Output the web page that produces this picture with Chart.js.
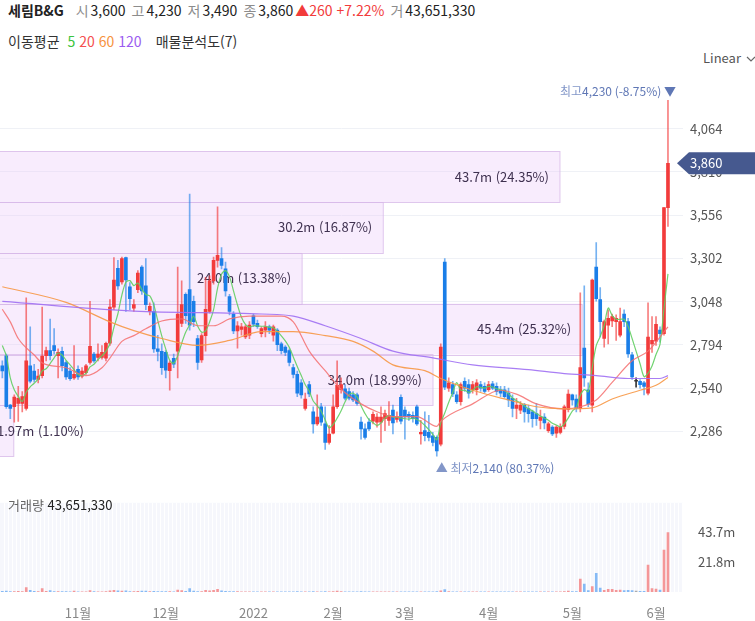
<!DOCTYPE html>
<html lang="ko">
<head>
<meta charset="utf-8">
<script src="https://cdn.jsdelivr.net/npm/chart.js@4.4.1/dist/chart.umd.min.js"></script>
<style>
  body { margin: 0; background: #fff; font-family: 'Noto Sans CJK KR', 'Noto Sans', sans-serif; }
  #wrap { position: relative; width: 755px; height: 621px; overflow: hidden; }
  .abs { position: absolute; }
  #head { left: 8px; top: 0; font-size: 14px; line-height: 20px; color: #222; white-space: nowrap; }
  #head b { margin-right: 6px; }
  #head .g { color: #8c8c8c; margin: 0 2px 0 6px; }
  #head .r { color: #f23b3b; margin-left: 2px; }
  #ma { left: 8px; top: 31px; font-size: 14px; line-height: 20px; color: #333; white-space: nowrap; }
  #ma span { margin-left: 4px; }
  #lin { left: 703px; top: 48px; font-size: 13px; color: #555; white-space: nowrap; }
  #volTxt { left: 8px; top: 495px; font-size: 13px; color: #222; white-space: nowrap; }
</style>
</head>
<body>
<div id="wrap">
  <div id="head" class="abs"><b>세림B&amp;G</b><span class="g">시</span>3,600<span class="g">고</span>4,230<span class="g">저</span>3,490<span class="g">종</span>3,860<span class="r">▲260 +7.22%</span><span class="g">거</span>43,651,330</div>
  <div id="ma" class="abs">이동평균 <span style="color:#3cc43c">5</span><span style="color:#f55050">20</span><span style="color:#f7923d">60</span><span style="color:#9b5cf0">120</span><span style="margin-left:14px">매물분석도(7)</span></div>
  <div id="lin" class="abs">Linear<svg width="10" height="7" style="margin-left:5px"><polyline points="1,1 5,5 9,1" fill="none" stroke="#666" stroke-width="1.2"/></svg></div>
  <div class="abs" style="left:0;top:65px;width:755px;height:425px"><canvas id="price"></canvas></div>
  <div class="abs" style="left:0;top:488px;width:755px;height:133px"><canvas id="vol"></canvas></div>
  <div id="volTxt" class="abs"><span style="color:#666">거래량</span> 43,651,330</div>
</div>
<script>
// 월 구분 (일봉 인덱스 기준)
const monthLabels = ['11월', '12월', '2022', '2월', '3월', '4월', '5월', '6월'];
const monthStart = [19, 41, 63, 83, 101, 122, 143, 164];

// 일봉 시가/고가/저가/종가
const opens = [2670,2730,2440,2430,2450,2450,2420,2670,2640,2590, 2613,2730,2760,2790,2730,2756,2690,2640,2600,2650,
  2610,2630,2690,2740,2720,2720,2716,2803,3015,3244, 3164,3307,3135,3009,3118,3250,3140,2990,2990,2770,
  2756,2750,2642,2715,2756,2920,3090,3118,3049,2830, 2705,2848,2990,3170,3290,3300,3240,3078,2975,2875,
  2885,2840,2850,2965,2920,2860,2880,2900,2850,2880, 2800,2780,2760,2660,2620,2570,2420,2560,2400,2330,
  2430,2330,2220,2275,2430,2530,2535,2520,2500,2500, 2340,2300,2340,2345,2340,2340,2360,2350,2410,2355,
  2485,2410,2385,2380,2430,2270,2290,2280,2260,2250, 2210,3280,2540,2560,2500,2460,2580,2560,2530,2530,
  2560,2550,2530,2565,2550,2530,2530,2510,2480,2420, 2410,2440,2420,2400,2390,2350,2370,2290,2310,2275,
  2280,2315,2415,2500,2475,2420,2775,2530,2440,3250, 3060,2831,2910,2935,2930,2850,2975,2930,2735,2580,
  2580,2570,2510,2800,2815,2880,2860,3600];
const highs = [2700,2740,2445,2500,2550,2520,3070,2900,2680,2650, 3015,2780,2945,2890,2770,2780,2700,2660,2790,2670,
  2660,2680,3049,2750,2800,2790,2810,3060,3307,3290, 3310,3310,3160,3060,3230,3260,3301,3040,3040,2850,
  2800,2760,2700,2740,3250,3170,3100,3680,3080,2850, 2860,3190,3200,3310,3605,3365,3280,3090,2990,2930,
  2920,2910,2930,2975,2940,2900,2930,2910,2910,2890, 2810,2790,2770,2680,2640,2590,2510,2580,2430,2500,
  2450,2430,2320,2500,2700,2600,2560,2540,2520,2510, 2370,2330,2360,2400,2390,2430,2410,2460,2440,2400,
  2500,2430,2400,2400,2440,2350,2400,2380,2280,2260, 2800,3300,2600,2580,2520,2570,2600,2590,2580,2590,
  2580,2570,2580,2580,2570,2550,2550,2540,2500,2480, 2460,2450,2440,2410,2450,2410,2390,2340,2320,2320,
  2330,2440,2530,2505,2500,3100,3140,2570,3180,3395, 3130,2940,3000,2975,2970,3010,3000,2950,2750,2600,
  2590,2580,3040,2960,2960,2900,3600,4230];
const lows = [2600,2420,2360,2340,2344,2400,2410,2570,2575,2570, 2600,2700,2705,2740,2600,2640,2590,2585,2590,2590,
  2600,2620,2680,2690,2700,2710,2700,2790,3000,3120, 3150,2990,3000,2990,3100,3090,3000,2970,2750,2700,
  2620,2600,2527,2660,2600,2900,2920,2880,2900,2650, 2690,2756,2980,3150,3250,3240,3080,2970,2860,2775,
  2850,2830,2830,2900,2890,2840,2840,2860,2815,2760, 2740,2730,2670,2600,2490,2480,2410,2490,2275,2320,
  2320,2180,2210,2270,2420,2510,2470,2470,2460,2440, 2240,2240,2290,2330,2310,2220,2290,2320,2270,2340,
  2330,2240,2350,2340,2320,2210,2230,2230,2200,2140, 2200,2530,2520,2490,2450,2440,2520,2480,2510,2500,
  2520,2510,2520,2530,2500,2490,2480,2430,2370,2360, 2390,2340,2340,2310,2320,2300,2300,2280,2260,2250,
  2270,2300,2400,2440,2400,2400,2550,2430,2400,3050, 2840,2780,2800,2900,2820,2840,2900,2720,2590,2545,
  2540,2500,2500,2750,2790,2810,2850,3490];
const closes = [2640,2430,2420,2487,2480,2490,2700,2580,2590,2610, 2728,2760,2730,2760,2750,2671,2605,2595,2620,2605,
  2640,2670,2785,2700,2740,2750,2803,3015,3175,3140, 3301,3175,3065,3030,3215,3110,3030,3020,2770,2755,
  2660,2645,2687,2680,2975,3030,2965,2910,2930,2690, 2848,3003,3170,3290,3320,3260,3110,2990,2875,2905,
  2900,2900,2910,2915,2900,2890,2900,2880,2900,2795, 2760,2750,2690,2620,2510,2500,2475,2505,2330,2370,
  2340,2220,2270,2430,2556,2560,2480,2480,2470,2450, 2300,2250,2300,2385,2370,2370,2390,2380,2335,2370,
  2345,2370,2370,2360,2330,2280,2260,2250,2220,2170, 2780,2545,2570,2505,2460,2560,2540,2510,2560,2570,
  2540,2520,2560,2540,2520,2510,2490,2470,2420,2440, 2440,2400,2390,2360,2360,2370,2335,2330,2270,2310,
  2310,2430,2505,2470,2420,2660,2600,2445,3175,3065, 2930,2930,2950,2960,2950,2930,2930,2740,2605,2580,
  2560,2550,2840,2820,2915,2860,3600,3860];
// 거래량 (백만 주)
const volumes = [0.5,0.6,0.4,0.4,0.5,0.4,3.2,1.3,0.5,0.3, 2.6,0.5,1.0,0.4,0.3,0.3,0.3,0.2,0.6,0.2,
  0.2,0.2,1.0,0.3,0.2,0.2,0.3,0.8,1.2,0.8, 0.7,0.9,0.4,0.3,0.5,0.6,0.6,0.3,0.5,0.3,
  0.3,0.3,0.3,0.2,1.4,1.0,0.5,2.6,0.6,0.4, 0.4,1.2,0.9,1.2,2.0,0.8,0.5,0.3,0.3,0.3,
  0.2,0.2,0.2,0.2,0.2,0.2,0.2,0.2,0.2,0.2, 0.2,0.2,0.2,0.2,0.3,0.2,0.2,0.2,0.3,0.2,
  0.2,0.3,0.2,0.4,0.6,0.3,0.2,0.2,0.2,0.2, 0.3,0.2,0.2,0.2,0.2,0.2,0.2,0.2,0.2,0.2,
  0.2,0.2,0.2,0.2,0.2,0.2,0.2,0.2,0.2,0.3, 0.9,1.8,0.3,0.2,0.2,0.2,0.2,0.2,0.2,0.2,
  0.2,0.2,0.2,0.2,0.2,0.2,0.2,0.2,0.2,0.2, 0.2,0.2,0.2,0.2,0.2,0.2,0.2,0.2,0.2,0.2,
  0.2,0.4,0.6,0.3,0.3,9.4,5.8,1.0,3.9,13.7, 2.8,1.2,2.0,2.0,1.3,1.4,1.0,1.2,1.0,0.6,
  0.5,0.5,19.7,2.5,2.2,1.4,30.8,43.65];

// 이동평균선 (그림에서 읽은 값, [인덱스, 가격])
const ma5Head = [2790, 2730, 2600, 2530];
const ma20Pts = [[0,3003],[2,2929],[4,2831],[8,2734],[10,2688],[16,2659],[21,2613],[25,2659],[27,2716],[30,2814],
  [33,2848],[36,2888],[40,2934],[45,2946],[49,2906],[53,2906],[57,2946],[62,2963],[70,2963],[73,2929],
  [77,2757],[81,2642],[85,2533],[90,2447],[94,2401],[98,2372],[104,2372],[109,2315],[110,2345],[118,2447],
  [125,2527],[129,2504],[134,2447],[141,2418],[145,2430],[149,2470],[153,2573],[158,2700],[162,2757],[167,2900]];
const ma60Pts = [[0,3135],[16,3043],[27,2929],[33,2877],[40,2831],[49,2791],[57,2820],[65,2871],[73,2871],[81,2848],
  [88,2814],[93,2757],[98,2676],[106,2642],[110,2596],[118,2527],[127,2470],[134,2430],[141,2418],[148,2424],
  [153,2476],[160,2527],[164,2556],[167,2602]];
const ma120Pts = [[0,3049],[33,2992],[65,2975],[73,2963],[81,2906],[90,2831],[98,2757],[108,2717],[118,2676],
  [132,2648],[141,2625],[149,2613],[157,2596],[165,2596],[167,2613]];

// 축 눈금
const priceTicks = [2286, 2540, 2794, 3048, 3302, 3556, 3810, 4064];
const volTicks = [21.8, 43.7];

// 매물분석도 (아래 구간부터, 백만 주 / %)
const profileVol = [1.97, 34.0, 45.4, 24.0, 30.2, 43.7, 0];
const profilePct = [1.10, 18.99, 25.32, 13.38, 16.87, 24.35, 0];

const FONT = "'Noto Sans CJK KR', 'Noto Sans', sans-serif";
const UP = '#f23b3b', DOWN = '#1a7ee8';
const idx = closes.map((c, i) => i);
const pick = (i, up, down, flat) => closes[i] > opens[i] ? up : (closes[i] < opens[i] ? down : flat);
const ma5 = closes.map((c, i) => i < 4 ? ma5Head[i] : closes.slice(i - 4, i + 1).reduce((a, b) => a + b, 0) / 5);
const X_MIN = -0.58, X_MAX = 170.77;

const overlay = {
  id: 'overlay',
  beforeDatasetsDraw(chart) {
    const {ctx, chartArea: a, scales: {y}} = chart;
    const lo = Math.min(...lows), hi = Math.max(...highs);
    const step = (hi - lo) / profileVol.length;
    const maxVol = Math.max(...profileVol);
    const x0 = a.left - 12;   // 막대가 왼쪽 밖에서 시작
    ctx.save();
    ctx.font = '13px ' + FONT;
    ctx.textBaseline = 'middle';
    profileVol.forEach((v, k) => {
      if (!v) return;
      const top = y.getPixelForValue(lo + step * (k + 1));
      const bot = y.getPixelForValue(lo + step * k);
      const w = v / maxVol * a.width * 0.87;
      ctx.fillStyle = 'rgba(236, 200, 250, 0.35)';
      ctx.fillRect(x0, top, w, bot - top);
      ctx.strokeStyle = 'rgba(215, 185, 232, 0.8)';
      ctx.lineWidth = 1;
      ctx.strokeRect(x0, Math.round(top) + 0.5, w, Math.round(bot - top));
      const txt = v.toPrecision(3) + 'm (' + profilePct[k].toFixed(2) + '%)';
      const tw = ctx.measureText(txt).width;
      ctx.fillStyle = '#3f3150';
      ctx.fillText(txt, Math.max(x0 + w - 11 - tw, a.left - 3), (top + bot) / 2);
    });
    ctx.restore();
  },
  afterDatasetsDraw(chart) {
    const {ctx, scales: {x, y}} = chart;
    const last = closes[closes.length - 1];
    const hiV = Math.max(...highs), loV = Math.min(...lows);
    const hiI = highs.indexOf(hiV), loI = lows.indexOf(loV);
    ctx.save();
    ctx.textBaseline = 'middle';
    ctx.font = '12px ' + FONT;
    // 최고
    const hx = x.getPixelForValue(hiI), hy = y.getPixelForValue(hiV) - 9;
    const hiTxt = hiV.toLocaleString('en-US') + ' (' + ((last - hiV) / hiV * 100).toFixed(2) + '%) ▼';
    const w1 = ctx.measureText('최고').width;
    const w2 = ctx.measureText(hiTxt).width;
    const sx = hx + 8 - w1 - w2;
    ctx.fillStyle = '#8296c8';
    ctx.fillText('최고', sx, hy);
    ctx.fillStyle = '#5f77b5';
    ctx.fillText(hiTxt, sx + w1, hy);
    // 최저
    const lx = x.getPixelForValue(loI) - 1, ly = y.getPixelForValue(loV) + 12;
    const pre = '▲ 최저';
    ctx.fillStyle = '#8296c8';
    ctx.fillText(pre, lx, ly);
    const p1 = ctx.measureText(pre).width;
    ctx.fillStyle = '#5f77b5';
    ctx.fillText(loV.toLocaleString('en-US') + ' (' + ((last - loV) / loV * 100).toFixed(2) + '%)', lx + p1, ly);
    ctx.restore();
  },
  afterDraw(chart) {
    const {ctx, chartArea: a, scales: {y}} = chart;
    const last = closes[closes.length - 1];
    const py = y.getPixelForValue(last);
    ctx.save();
    ctx.fillStyle = '#46598f';
    ctx.beginPath();
    ctx.moveTo(a.right - 6, py);
    ctx.lineTo(a.right + 6, py - 11);
    ctx.lineTo(chart.width, py - 11);
    ctx.lineTo(chart.width, py + 11);
    ctx.lineTo(a.right + 6, py + 11);
    ctx.closePath();
    ctx.fill();
    ctx.fillStyle = '#fff';
    ctx.font = '13px ' + FONT;
    ctx.textBaseline = 'middle';
    ctx.fillText(last.toLocaleString('en-US'), a.right + 7, py);
    ctx.restore();
  }
};

const lineSet = (pts, color, order) => ({
  type: 'line', data: pts.map(p => ({x: p[0], y: p[1]})), borderColor: color, borderWidth: 1.2,
  pointRadius: 0, cubicInterpolationMode: 'monotone', order: order
});

new Chart(document.getElementById('price'), {
  type: 'bar',
  data: {
    datasets: [
      lineSet(ma120Pts, 'rgba(160, 112, 243, 0.9)', 0),
      lineSet(ma60Pts, 'rgba(247, 152, 70, 0.9)', 0),
      lineSet(ma20Pts, 'rgba(245, 110, 110, 0.85)', 0),
      {type: 'line', data: idx.map(i => ({x: i, y: ma5[i]})), borderColor: 'rgba(98, 206, 98, 0.9)',
        borderWidth: 1.2, pointRadius: 0, tension: 0.3, order: 0},
      {data: idx.map(i => ({x: i, y: [lows[i], highs[i]]})), barThickness: 1, grouped: false, order: 2,
        backgroundColor: c => pick(c.dataIndex, 'rgba(242,59,59,0.65)', 'rgba(26,126,232,0.6)', '#333')},
      {data: idx.map(i => ({x: i, y: [opens[i], closes[i]]})), barThickness: 3, grouped: false, minBarLength: 1, order: 1,
        backgroundColor: c => pick(c.dataIndex, UP, DOWN, '#333')}
    ]
  },
  options: {
    responsive: true,
    maintainAspectRatio: false,
    animation: false,
    events: [],
    layout: {padding: {top: 10, bottom: 10, left: 0, right: 0}},
    plugins: {legend: {display: false}, tooltip: {enabled: false}},
    scales: {
      x: {type: 'linear', min: X_MIN, max: X_MAX, display: false, offset: false},
      y: {
        position: 'right', min: 2028, max: 4351,
        afterBuildTicks: s => { s.ticks = priceTicks.map(v => ({value: v})); },
        afterFit: s => { s.width = 72; },
        grid: {color: '#eff1f6', drawTicks: false},
        border: {display: false},
        ticks: {padding: 7, color: '#555', font: {size: 13, family: FONT}, callback: v => v.toLocaleString('en-US')}
      }
    }
  },
  plugins: [overlay]
});

const volBg = {
  id: 'volBg',
  beforeDatasetsDraw(chart) {
    const {ctx, chartArea: a, scales: {x}} = chart;
    ctx.save();
    ctx.fillStyle = '#f6f7fc';
    ctx.fillRect(a.left, a.top, a.width, a.height);
    ctx.strokeStyle = 'rgba(255,255,255,0.95)';
    ctx.lineWidth = 1;
    for (let i = 0; i <= X_MAX; i++) {
      const px = Math.round(x.getPixelForValue(i + 0.5)) + 0.5;
      ctx.beginPath();
      ctx.moveTo(px, a.top);
      ctx.lineTo(px, a.bottom);
      ctx.stroke();
    }
    ctx.restore();
  }
};

new Chart(document.getElementById('vol'), {
  type: 'bar',
  data: {
    datasets: [{
      data: idx.map(i => ({x: i, y: volumes[i]})), barThickness: 2, grouped: false,
      backgroundColor: c => pick(c.dataIndex, 'rgba(242,100,100,0.65)', 'rgba(60,145,240,0.6)', 'rgba(120,120,120,0.6)')
    }]
  },
  options: {
    responsive: true,
    maintainAspectRatio: false,
    animation: false,
    events: [],
    layout: {padding: {top: 2, bottom: 0, left: 0, right: 0}},
    plugins: {legend: {display: false}, tooltip: {enabled: false}},
    scales: {
      x: {
        type: 'linear', min: X_MIN, max: X_MAX, offset: false,
        afterBuildTicks: s => { s.ticks = monthStart.map(v => ({value: v})); },
        afterFit: s => { s.height = 29; },
        grid: {display: false}, border: {display: false},
        ticks: {autoSkip: false, maxRotation: 0, padding: 5, color: '#888', font: {size: 13, family: FONT},
          callback: v => monthLabels[monthStart.indexOf(v)] || ''}
      },
      y: {
        position: 'right', min: 0, max: 65.5,
        afterBuildTicks: s => { s.ticks = volTicks.map(v => ({value: v})); },
        afterFit: s => { s.width = 72; },
        grid: {display: false}, border: {display: false},
        ticks: {padding: 7, color: '#555', font: {size: 13, family: FONT}, callback: v => v.toFixed(1) + 'm'}
      }
    }
  },
  plugins: [volBg]
});
</script>
</body>
</html>
